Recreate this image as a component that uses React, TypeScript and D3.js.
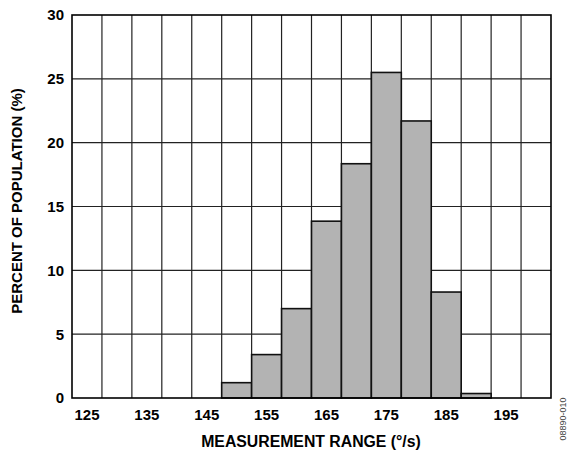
import React from "react";
import * as d3 from "d3";

const binCenters = [125, 130, 135, 140, 145, 150, 155, 160, 165, 170, 175, 180, 185, 190, 195, 200];
const percents = [0, 0, 0, 0, 0, 1.2, 3.4, 7.0, 13.85, 18.35, 25.5, 21.7, 8.3, 0.35, 0, 0];
const xTickLabels = [125, 135, 145, 155, 165, 175, 185, 195];
const yTicks = [0, 5, 10, 15, 20, 25, 30];
const binWidth = 5;

const W = 569, H = 450;
const L = 72, R = 551, T = 15, B = 398;
const FONT = "'Liberation Sans', Arial, sans-serif";

export default function App() {
  const x = d3.scaleLinear().domain([122.5, 202.5]).range([L, R]);
  const y = d3.scaleLinear().domain([0, 30]).range([B, T]);
  const vGrid = d3.range(127.5, 200, 5);
  return (
    <svg width={W} height={H} style={{ position: "absolute", left: 0, top: 0, background: "#fff" }}>
      {vGrid.map((g) => (
        <line key={"v" + g} x1={x(g)} x2={x(g)} y1={T} y2={B} stroke="#222" strokeWidth={1.2} />
      ))}
      {yTicks.slice(1, -1).map((t) => (
        <line key={"h" + t} x1={L} x2={R} y1={y(t)} y2={y(t)} stroke="#222" strokeWidth={1.2} />
      ))}
      {binCenters.map((c, i) =>
        percents[i] > 0 ? (
          <rect
            key={"b" + c}
            x={x(c - binWidth / 2)}
            y={y(percents[i])}
            width={x(c + binWidth / 2) - x(c - binWidth / 2)}
            height={y(0) - y(percents[i])}
            fill="#b3b3b3"
            stroke="#111"
            strokeWidth={1.6}
          />
        ) : null
      )}
      <rect x={L} y={T} width={R - L} height={B - T} fill="none" stroke="#000" strokeWidth={1.6} />
      {yTicks.map((t) => (
        <text key={"yt" + t} x={64} y={y(t)} dy="0.36em" textAnchor="end" fontFamily={FONT} fontWeight="bold" fontSize={15} fill="#000">
          {t}
        </text>
      ))}
      {xTickLabels.map((t) => (
        <text key={"xt" + t} x={x(t)} y={420} textAnchor="middle" fontFamily={FONT} fontWeight="bold" fontSize={15} fill="#000">
          {t}
        </text>
      ))}
      <text x={311} y={446.5} textAnchor="middle" fontFamily={FONT} fontWeight="bold" fontSize={15.8} fill="#000">
        MEASUREMENT RANGE (°/s)
      </text>
      <text transform="translate(22,201) rotate(-90)" textAnchor="middle" fontFamily={FONT} fontWeight="bold" fontSize={15} fill="#000">
        PERCENT OF POPULATION (%)
      </text>
      <text transform="translate(566,419) rotate(-90)" textAnchor="middle" fontFamily={FONT} fontSize={9} fill="#444">
        08890-010
      </text>
    </svg>
  );
}
